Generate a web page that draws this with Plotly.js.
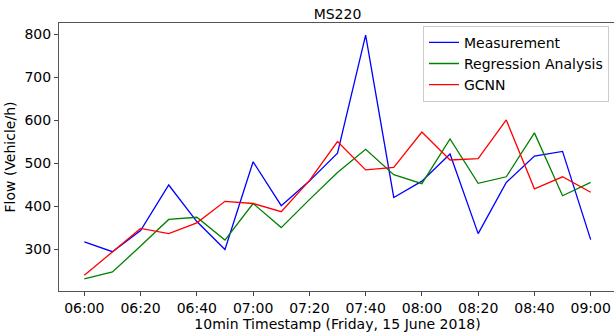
<!DOCTYPE html>
<html>
<head>
<meta charset="utf-8">
<script src="https://cdn.plot.ly/plotly-3.0.1.min.js"></script>
<style>
  html, body { margin: 0; padding: 0; background: #fff; overflow: hidden; }
  #chart { width: 616px; height: 333px; }
</style>
</head>
<body>
<div id="chart"></div>
<script>
// 10-minute timestamps, Friday 15 June 2018
const times = ["06:00","06:10","06:20","06:30","06:40","06:50","07:00","07:10","07:20","07:30",
               "07:40","07:50","08:00","08:10","08:20","08:30","08:40","08:50","09:00"];
const tickLabels = ["06:00","06:20","06:40","07:00","07:20","07:40","08:00","08:20","08:40","09:00"];

// Flow (vehicles per hour) at station MS220
const measurement = [318, 295, 344, 450, 365, 300, 504, 402, 459, 524,
                     798, 421, 459, 522, 337, 456, 517, 528, 323];
const regression  = [232, 248, 308, 370, 375, 322, 407, 351, 416, 479,
                     533, 474, 453, 557, 454, 469, 571, 425, 456];
const gcnn        = [240, 294, 349, 337, 362, 412, 407, 388, 460, 551,
                     485, 491, 573, 508, 511, 601, 441, 469, 433];

const font = "DejaVu Sans, sans-serif";
const fs = 14;

const series = [
  { name: "Measurement", y: measurement, color: "#0000ff" },
  { name: "Regression Analysis", y: regression, color: "#008000" },
  { name: "GCNN", y: gcnn, color: "#ff0000" }
];

const traces = series.map(s => ({
  type: "scatter",
  mode: "lines",
  x: times,
  y: s.y,
  name: s.name,
  line: { color: s.color, width: 1.3 }
}));

const axisCommon = {
  ticks: "outside", ticklen: 4, tickcolor: "#444", tickwidth: 1,
  showgrid: false, zeroline: false,
  showline: true, mirror: true, linecolor: "#555", linewidth: 1,
  tickfont: { family: font, size: fs, color: "#000" }
};

// the axes box runs a couple of pixels past the right edge of the window
const layout = {
  width: 616,
  height: 333,
  margin: { l: 59, r: 0, t: 23, b: 42 },
  paper_bgcolor: "#fff",
  plot_bgcolor: "#fff",
  font: { family: font, size: fs, color: "#000" },
  title: { text: "MS220", font: { family: font, size: fs, color: "#000" },
           xref: "paper", x: 0.5, xanchor: "center",
           yref: "container", y: 0.958, yanchor: "middle" },
  xaxis: Object.assign({}, axisCommon, {
    type: "category",
    range: [-0.9, 18.9],
    tickmode: "array",
    tickvals: tickLabels,
    ticktext: tickLabels,
    title: { text: "10min Timestamp (Friday, 15 June 2018)",
             font: { family: font, size: fs, color: "#000" }, standoff: 1 }
  }),
  yaxis: Object.assign({}, axisCommon, {
    range: [203.7, 826.3],
    tickvals: [300, 400, 500, 600, 700, 800],
    title: { text: "Flow (Vehicle/h)",
             font: { family: font, size: fs, color: "#000" }, standoff: 5 }
  }),
  showlegend: true,
  legend: {
    x: 0.9874, xanchor: "right",
    y: 0.99, yanchor: "top",
    bgcolor: "rgba(255,255,255,0.8)",
    bordercolor: "#cccccc", borderwidth: 1,
    font: { family: font, size: fs, color: "#000" },
    tracegroupgap: 0,
    itemwidth: 30
  }
};

Plotly.newPlot("chart", traces, layout, { staticPlot: true, displayModeBar: false });
</script>
</body>
</html>
